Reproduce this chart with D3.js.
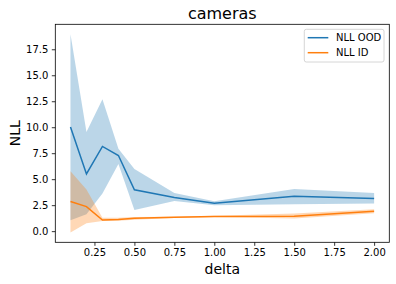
<!DOCTYPE html>
<html>
<head>
<meta charset="utf-8">
<script src="https://cdn.jsdelivr.net/npm/d3@7"></script>
<style>
  body { margin: 0; background: #fff; }
  svg text { font-family: "DejaVu Sans", sans-serif; fill: #000; }
</style>
</head>
<body>
<div id="container"></div>
<script>
// data
const delta = [0.1, 0.2, 0.3, 0.4, 0.5, 0.75, 1.0, 1.5, 2.0];
const oodMean = [10.03, 5.5, 8.15, 7.28, 3.98, 3.23, 2.69, 3.35, 3.14];
const oodLow = [1.04, 1.62, 3.62, 6.47, 2.04, 2.91, 2.5, 2.59, 2.65];
const oodHigh = [18.95, 9.54, 12.69, 7.93, 5.99, 3.66, 2.88, 4.05, 3.68];
const idMean = [2.85, 2.36, 1.07, 1.12, 1.23, 1.33, 1.42, 1.44, 1.91];
const idLow = [-0.12, 0.75, 0.97, 1.0, 1.1, 1.27, 1.36, 1.22, 1.72];
const idHigh = [5.76, 4.0, 1.29, 1.3, 1.36, 1.39, 1.48, 1.7, 2.1];
const xTicks = [0.25, 0.5, 0.75, 1.0, 1.25, 1.5, 1.75, 2.0];
const yTicks = [0, 2.5, 5, 7.5, 10, 12.5, 15, 17.5];
const seriesNames = ["NLL OOD", "NLL ID"];
const colors = ["#1f77b4", "#ff7f0e"];

const w = 396, h = 284;
const padL = 55.3, padR = 389.3, padT = 24.3, padB = 242.3;

const svg = d3.select("#container").append("svg")
  .attr("width", w).attr("height", h);

// matplotlib style 5% margins
function padded(lo, hi) {
  const m = (hi - lo) * 0.05;
  return [lo - m, hi + m];
}
const x = d3.scaleLinear()
  .domain(padded(d3.min(delta), d3.max(delta)))
  .range([padL, padR]);
const y = d3.scaleLinear()
  .domain(padded(d3.min(idLow.concat(oodLow)), d3.max(oodHigh.concat(idHigh))))
  .range([padB, padT]);

const series = [
  { mean: oodMean, low: oodLow, high: oodHigh },
  { mean: idMean, low: idLow, high: idHigh }
];

//THE BANDS
const area = d3.area()
  .x(d => x(d.x)).y0(d => y(d.lo)).y1(d => y(d.hi));
series.forEach((s, i) => {
  const pts = delta.map((d, j) => ({ x: d, lo: s.low[j], hi: s.high[j] }));
  svg.append("path")
    .attr("d", area(pts))
    .attr("fill", colors[i])
    .attr("fill-opacity", 0.3);
});

//THE LINES
const line = d3.line().x(d => x(d[0])).y(d => y(d[1]));
series.forEach((s, i) => {
  svg.append("path")
    .attr("d", line(delta.map((d, j) => [d, s.mean[j]])))
    .attr("fill", "none")
    .attr("stroke", colors[i])
    .attr("stroke-width", 1.5);
});

//THE AXES
const xAxis = d3.axisBottom(x).tickValues(xTicks).tickFormat(d3.format(".2f"))
  .tickSizeInner(3.5).tickSizeOuter(0).tickPadding(3.5);
const gx = svg.append("g")
  .attr("transform", `translate(0, ${padB})`)
  .call(xAxis);
const yAxis = d3.axisLeft(y).tickValues(yTicks).tickFormat(d3.format(".1f"))
  .tickSizeInner(3.5).tickSizeOuter(0).tickPadding(3.5);
const gy = svg.append("g")
  .attr("transform", `translate(${padL}, 0)`)
  .call(yAxis);
[gx, gy].forEach(g => {
  g.select(".domain").remove();
  g.selectAll("line").attr("stroke", "#000").attr("stroke-width", 0.8);
  g.selectAll("text").attr("font-size", 10).attr("font-family", "DejaVu Sans").attr("fill", "#000");
});

// frame
svg.append("rect")
  .attr("x", padL).attr("y", padT)
  .attr("width", padR - padL).attr("height", padB - padT)
  .attr("fill", "none").attr("stroke", "#000").attr("stroke-width", 0.8);

//THE LABELS
svg.append("text")
  .attr("x", (padL + padR) / 2).attr("y", 19)
  .attr("text-anchor", "middle").attr("font-size", 16)
  .text("cameras");
svg.append("text")
  .attr("x", (padL + padR) / 2).attr("y", 274)
  .attr("text-anchor", "middle").attr("font-size", 14)
  .text("delta");
svg.append("text")
  .attr("transform", `translate(20, ${(padT + padB) / 2}) rotate(-90)`)
  .attr("text-anchor", "middle").attr("font-size", 14)
  .text("NLL");

//THE LEGEND
const lg = svg.append("g").attr("transform", "translate(304.3, 29.3)");
lg.append("rect")
  .attr("width", 79.7).attr("height", 32.7)
  .attr("rx", 2)
  .attr("fill", "#fff").attr("fill-opacity", 0.8)
  .attr("stroke", "#cccccc").attr("stroke-width", 0.8);
seriesNames.forEach((name, i) => {
  const yy = 8.4 + i * 15;
  lg.append("line")
    .attr("x1", 3.4).attr("x2", 24)
    .attr("y1", yy).attr("y2", yy)
    .attr("stroke", colors[i]).attr("stroke-width", 1.5);
  lg.append("text")
    .attr("x", 31.7).attr("y", yy + 3.6)
    .attr("font-size", 10)
    .text(name);
});
</script>
</body>
</html>
